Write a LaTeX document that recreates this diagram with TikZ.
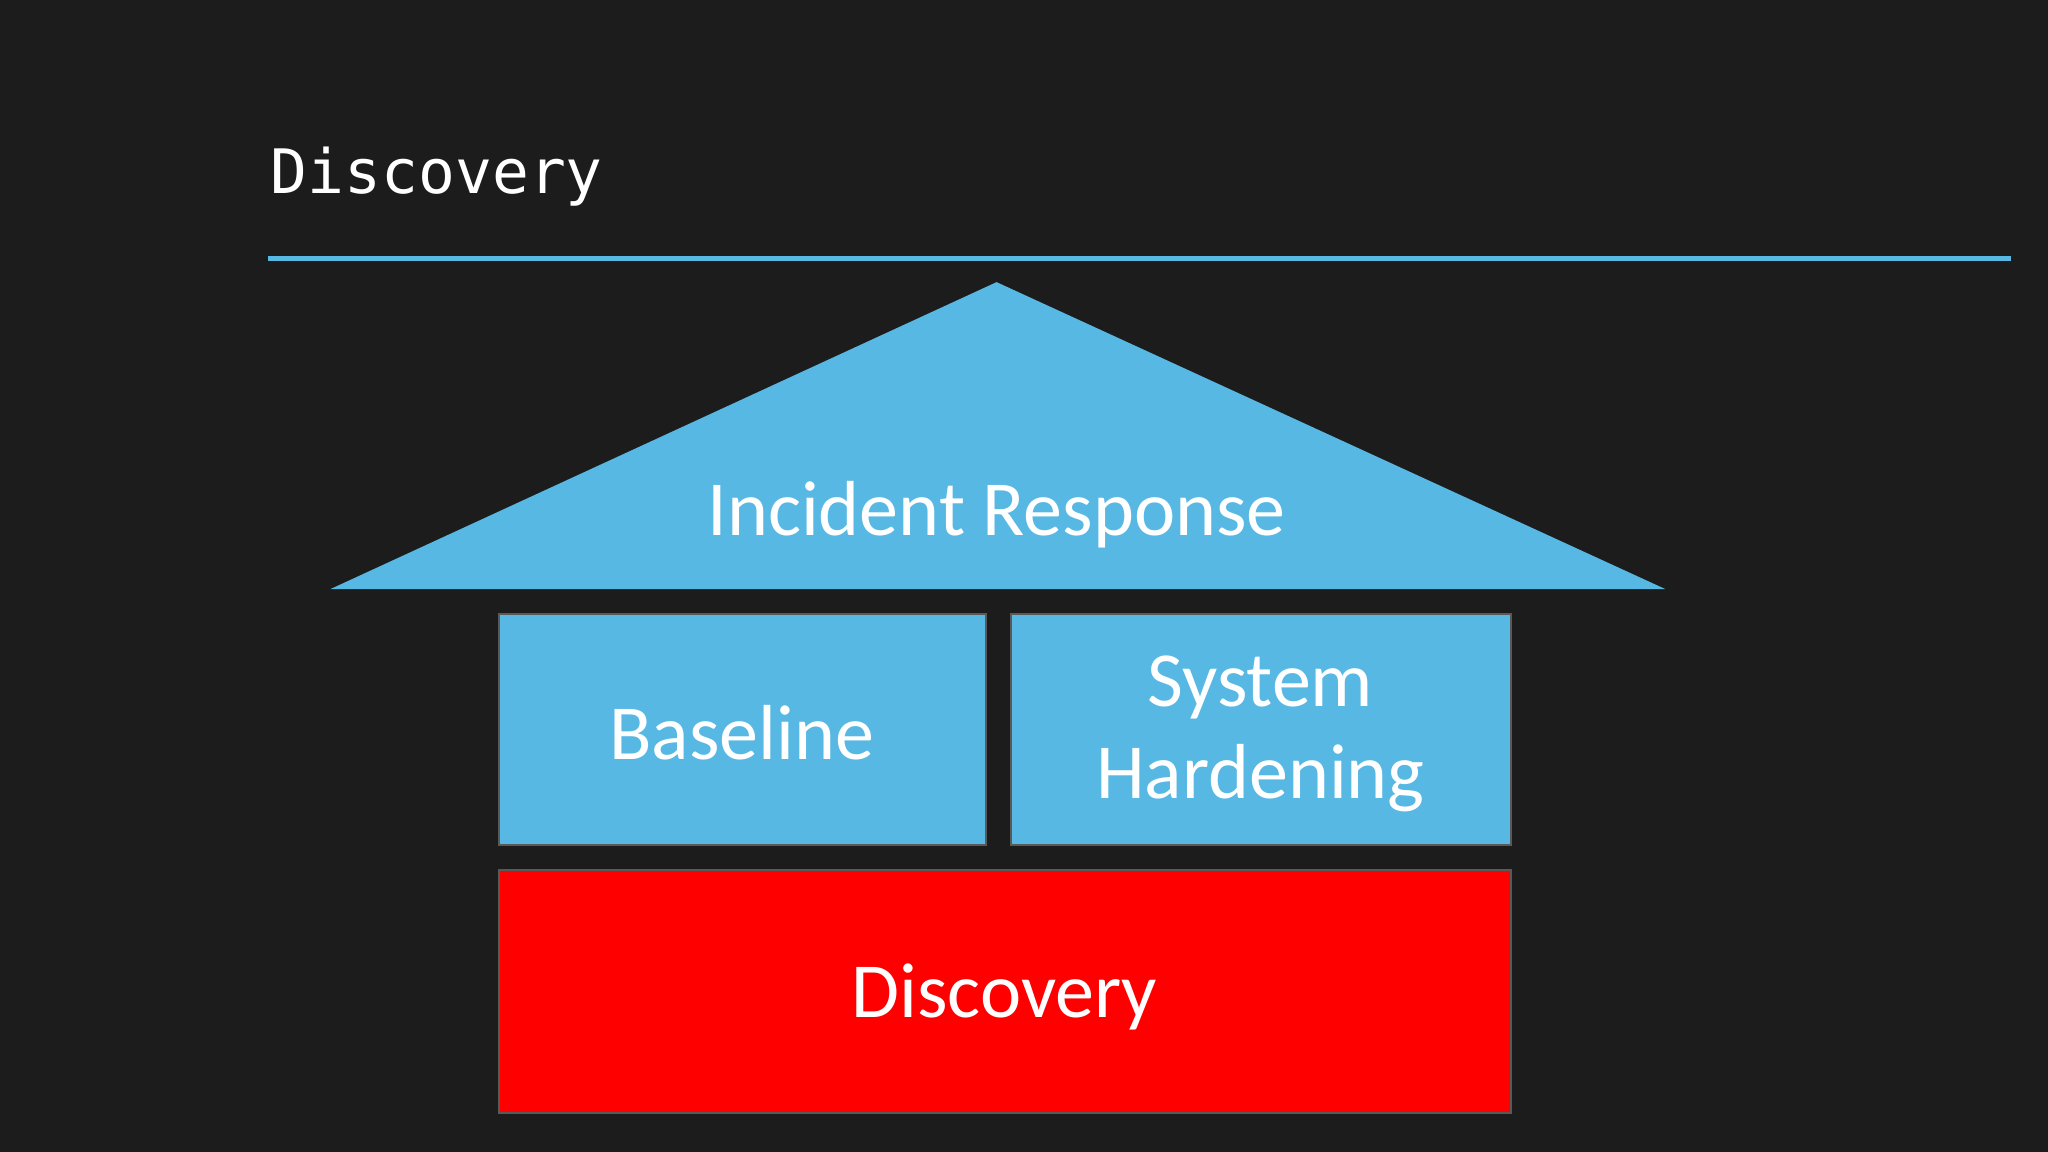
\documentclass[tikz,border=0pt]{standalone}
\usepackage{fontspec}
\setmainfont{Carlito}
\newfontfamily\monof{DejaVu Sans Mono}
\definecolor{bg}{HTML}{1C1C1C}
\definecolor{sky}{HTML}{57B8E4}
\definecolor{redbox}{HTML}{FF0000}
\begin{document}
\begin{tikzpicture}[x=0.02cm,y=-0.02cm,
  box/.style={draw=gray!70!black,line width=0.8pt},
  lbl/.style={text=white,font=\fontsize{34}{40}\selectfont,align=center}]
\fill[bg] (0,0) rectangle (1568,882);
\useasboundingbox (0,0) rectangle (1568,882);
\node[anchor=base west,text=white,font=\monof\fontsize{26.7}{30}\selectfont,inner sep=0] (title) at (207,148) {Discovery};
\coordinate (l1) at (205,198); \coordinate (l2) at (1540,198);
\draw[sky,line width=2.4pt] (l1) -- (l2);
\coordinate (apex) at (763,216); \coordinate (bl) at (253,451); \coordinate (br) at (1275,451);
\fill[sky] (apex) -- (bl) -- (br) -- cycle;
\node[lbl] (ir) at (763,394) {Incident Response};
\fill[sky,box] (382,470) rectangle (755,647);
\node[lbl] (base) at (568,561) {Baseline};
\fill[sky,box] (774,470) rectangle (1157,647);
\node[lbl] (sh) at (965,562) {System\\Hardening};
\fill[redbox,box] (382,666) rectangle (1157,852);
\node[lbl] (disc) at (769,763) {Discovery};
\end{tikzpicture}
\end{document}
